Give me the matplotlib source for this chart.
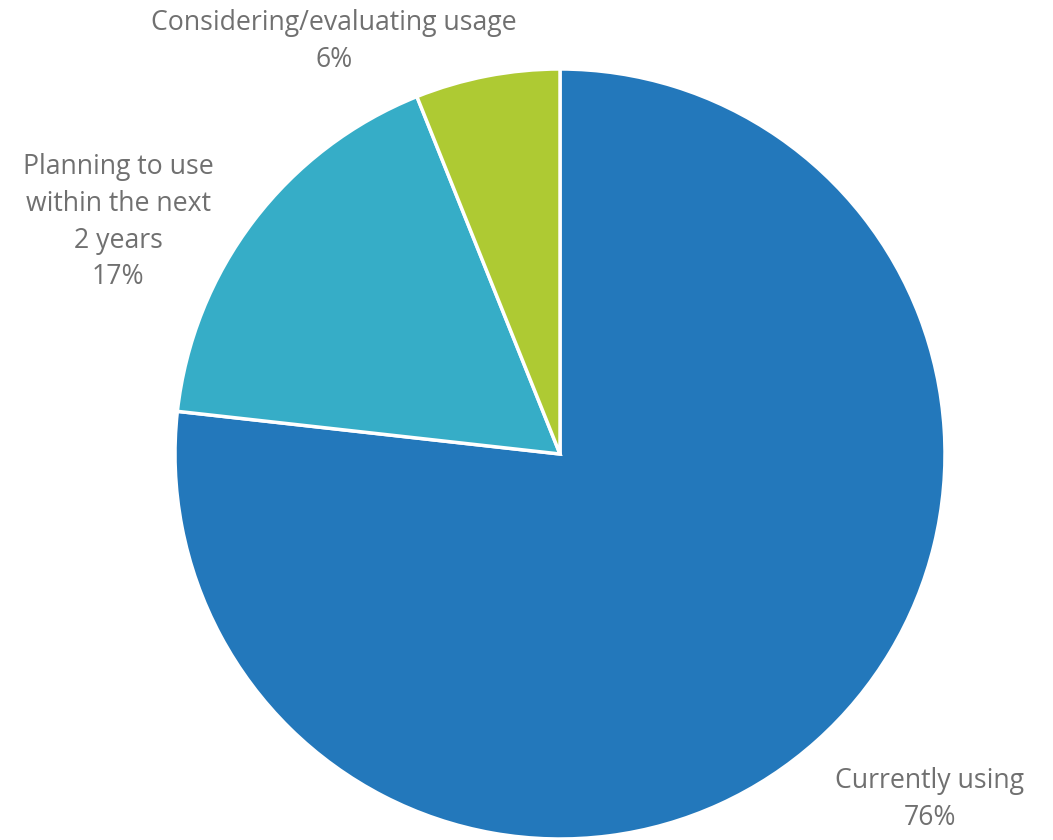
import matplotlib.pyplot as plt

labels = ['Currently using', 'Planning to use\nwithin the next\n2 years', 'Considering/evaluating usage']
values = [76, 17, 6]
colors = ['#2378bb', '#36adc7', '#aeca33']

# label centres in pie units (radius = 1)
label_pos = [(0.96, -0.897), (-1.148, 0.602), (-0.587, 1.072)]

plt.rcParams['font.family'] = ['Open Sans', 'DejaVu Sans']

fig = plt.figure(figsize=(10.53, 8.4), dpi=100)
W, H = 1053, 840
cx, cy, r = 560, 454, 385
ax = fig.add_axes([(cx - r) / W, (H - cy - r) / H, 2 * r / W, 2 * r / H])

ax.pie(values, colors=colors, startangle=90, counterclock=False, radius=1,
       wedgeprops=dict(edgecolor='white', linewidth=2.5))

# pie() resets the limits, so fix them afterwards
ax.set_xlim(-1, 1)
ax.set_ylim(-1, 1)
ax.set_aspect('equal')
ax.axis('off')

for lab, val, (x, y) in zip(labels, values, label_pos):
    ax.text(x, y, f'{lab}\n{val}%', ha='center', va='center', fontsize=19.2,
            color='#707070', linespacing=1.42, clip_on=False)

fig.savefig('out.png', dpi=100)
